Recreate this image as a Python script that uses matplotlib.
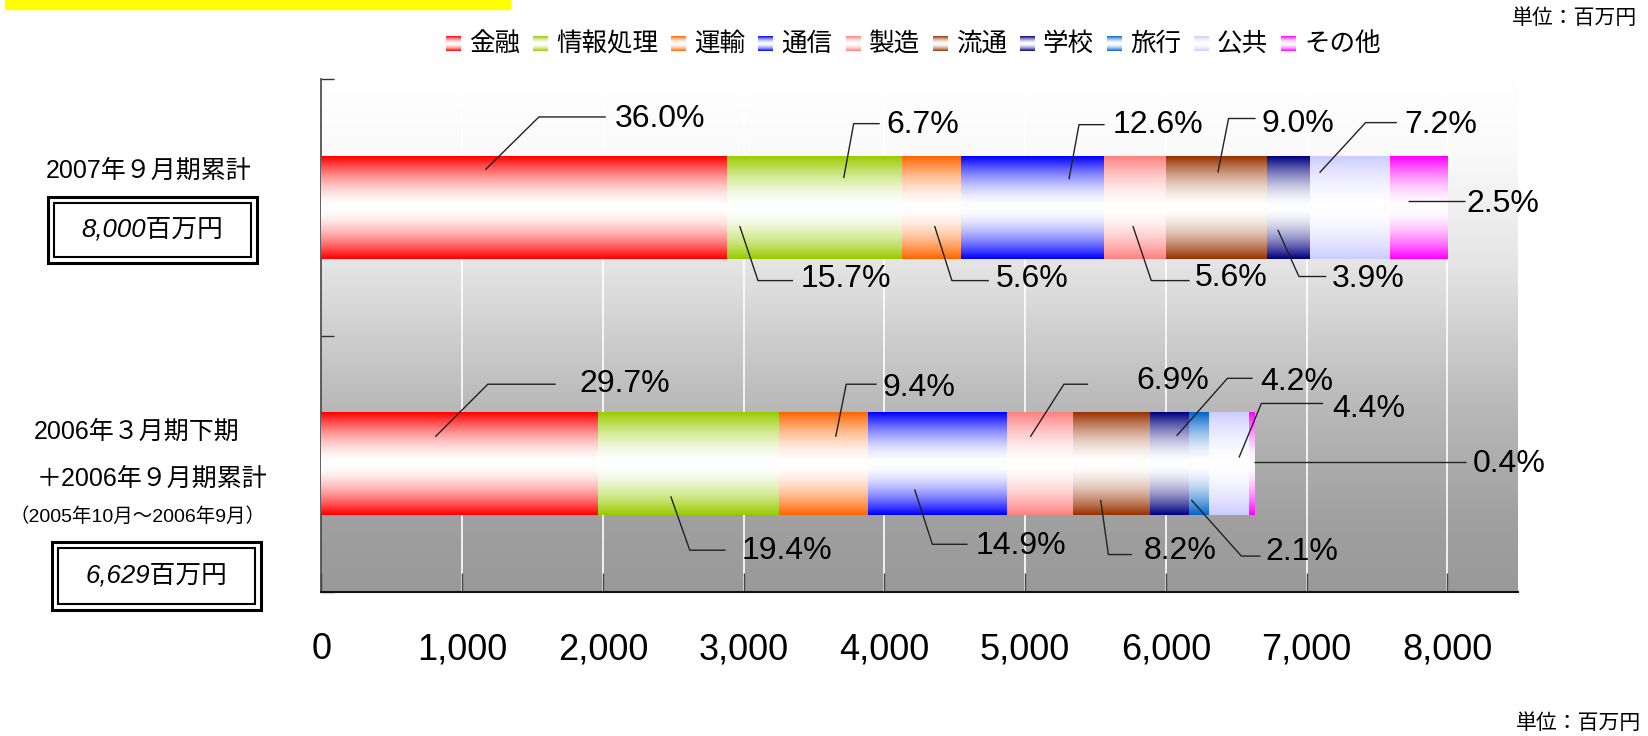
import numpy as np
import matplotlib.pyplot as plt
import matplotlib.colors as mcolors
from matplotlib.patches import Rectangle

plt.rcParams['font.family'] = ['Liberation Sans', 'Noto Sans CJK JP', 'DejaVu Sans']

W, H = 1649, 736

# data (百万円)
segments = ['金融', '情報処理', '運輸', '通信', '製造', '流通', '学校', '旅行', '公共', 'その他']
colors = ['#ff0000', '#99cc00', '#ff6600', '#0000ff', '#ff8080',
          '#993300', '#000080', '#0066cc', '#ccccff', '#ff00ff']
values_2007 = [2880, 1243, 419, 1018, 440, 718, 305, 0, 568, 410]
values_2006 = [1962, 1289, 630, 990, 472, 544, 277, 142, 282, 38]
totals = [8000, 6629]
xticks = [0, 1000, 2000, 3000, 4000, 5000, 6000, 7000, 8000]

# percent labels: text, anchor, elbow, line end x, text x, text y
pct_labels = [
    ('36.0%', (1164, -0.146), (1545, -0.352), 2020, 2081, -0.343),
    ('6.7%', (3711, -0.114), (3782, -0.326), 3967, 4014, -0.322),
    ('12.6%', (5312, -0.109), (5383, -0.322), 5565, 5620, -0.320),
    ('9.0%', (6370, -0.135), (6446, -0.346), 6638, 6679, -0.326),
    ('7.2%', (7093, -0.135), (7420, -0.330), 7642, 7697, -0.320),
    ('2.5%', (7720, -0.023), (7720, -0.023), 8123, 8139, -0.014),
    ('15.7%', (2972, 0.073), (3102, 0.286), 3351, 3405, 0.280),
    ('5.6%', (4357, 0.073), (4480, 0.286), 4743, 4791, 0.280),
    ('5.6%', (5766, 0.073), (5897, 0.286), 6169, 6204, 0.275),
    ('3.9%', (6796, 0.088), (6946, 0.270), 7140, 7183, 0.280),
    ('29.7%', (808, 0.895), (1182, 0.690), 1665, 1835, 0.690),
    ('9.4%', (3654, 0.895), (3729, 0.690), 3945, 3988, 0.705),
    ('6.9%', (5037, 0.895), (5276, 0.690), 5448, 5793, 0.677),
    ('4.2%', (6077, 0.891), (6438, 0.667), 6617, 6669, 0.683),
    ('4.4%', (6520, 0.976), (6679, 0.765), 7117, 7184, 0.787),
    ('0.4%', (6624, 0.993), (6624, 0.993), 8130, 8179, 1.002),
    ('19.4%', (2482, 1.127), (2617, 1.337), 2872, 2983, 1.341),
    ('14.9%', (4215, 1.100), (4341, 1.314), 4592, 4646, 1.322),
    ('8.2%', (5537, 1.141), (5592, 1.354), 5760, 5842, 1.341),
    ('2.1%', (6181, 1.141), (6537, 1.360), 6673, 6711, 1.346),
]


def grad_rgb(color, n=101):
    rgb = np.array(mcolors.to_rgb(color))
    f = np.linspace(0, 1, n)
    w = (np.abs(2 * f - 1) ** 1.7)[:, None, None]
    return w * rgb + (1 - w)


fig = plt.figure(figsize=(W / 100, H / 100), dpi=100)
ax = fig.add_axes([321.5 / W, 1 - 592 / H, (1517.6 - 321.5) / W, (592 - 79) / H])

# background gradient, white at top to grey at bottom
stops = [0, 0.14, 0.35, 0.63, 0.86, 1.0]
greys = [255, 250, 230, 186, 160, 153]
g = np.interp(np.linspace(0, 1, 200), stops, greys) / 255
bg = np.repeat(g[:, None, None], 3, axis=2)
ax.imshow(bg, extent=(0, 8500, 1.5, -0.5), aspect='auto', zorder=0)

for x in xticks[1:]:
    ax.axvline(x, color='white', lw=1.2, zorder=1)

for y, vals in enumerate([values_2007, values_2006]):
    left = 0
    for v, c in zip(vals, colors):
        if v > 0:
            ax.imshow(grad_rgb(c), extent=(left, left + v, y + 0.2, y - 0.2),
                      aspect='auto', interpolation='bilinear', zorder=3)
        left += v

for txt, (x0, y0), (x1, y1), lx, tx, ty in pct_labels:
    ax.plot([x0, x1, lx], [y0, y1, y1], color='#222', lw=1, zorder=4,
            solid_capstyle='butt')
    ax.text(tx, ty, txt, fontsize=23, ha='left', va='center', zorder=5)

ax.set_xlim(0, 8500)
ax.set_ylim(1.5, -0.5)
ax.set_xticks(xticks)
ax.set_xticklabels([f'{x:,}' for x in xticks])
ax.set_yticks([-0.5, 0.5, 1.5])
ax.set_yticklabels([])
ax.tick_params(axis='x', direction='in', length=14, width=1, color='#444',
               labelsize=26, pad=29)
ax.tick_params(axis='y', direction='in', length=9, width=1, color='#333')
for s in ['top', 'right']:
    ax.spines[s].set_visible(False)
ax.spines['left'].set_color('#444')
ax.spines['left'].set_linewidth(1.2)
ax.spines['bottom'].set_color('#111')
ax.spines['bottom'].set_linewidth(1.5)

# overlay in pixel coordinates for legend, side labels, boxes
ov = fig.add_axes([0, 0, 1, 1], zorder=5)
ov.patch.set_alpha(0)
ov.axis('off')

ov.add_patch(Rectangle((5, 0), 505, 9, color='#ffff00'))

lx, ly = 446, 44
leg_fs = 18.4
for name, c in zip(segments, colors):
    ov.imshow(grad_rgb(c), extent=(lx, lx + 15, ly + 7.5, ly - 7.5),
              aspect='auto', interpolation='bilinear')
    ov.text(lx + 23, ly, name, fontsize=leg_fs, ha='left', va='center')
    lx += 23 + len(name) * leg_fs * 100 / 72 + 13

ov.text(1512, 18, '単位：百万円', fontsize=15, ha='left', va='center')
ov.text(1516, 723, '単位：百万円', fontsize=15, ha='left', va='center')

ov.text(149, 171, '2007年９月期累計', fontsize=18, ha='center', va='center')
ov.text(137, 432, '2006年３月期下期', fontsize=18, ha='center', va='center')
ov.text(152, 479, '＋2006年９月期累計', fontsize=18, ha='center', va='center')
ov.text(138, 517, '（2005年10月～2006年9月）', fontsize=14, ha='center', va='center')

for (bx, by, bw, bh), t in zip([(48, 197, 209, 66), (52, 542, 209, 68)], totals):
    ov.add_patch(Rectangle((bx, by), bw, bh, fill=False, ec='black', lw=2.2))
    ov.add_patch(Rectangle((bx + 6, by + 6), bw - 12, bh - 12, fill=False,
                           ec='black', lw=1.5))
    ov.text(bx + bw / 2, by + bh / 2, f'{t:,}百万円', fontsize=18.5,
            style='italic', ha='center', va='center')

ov.set_xlim(0, W)
ov.set_ylim(H, 0)

fig.savefig('out.png', dpi=100)
